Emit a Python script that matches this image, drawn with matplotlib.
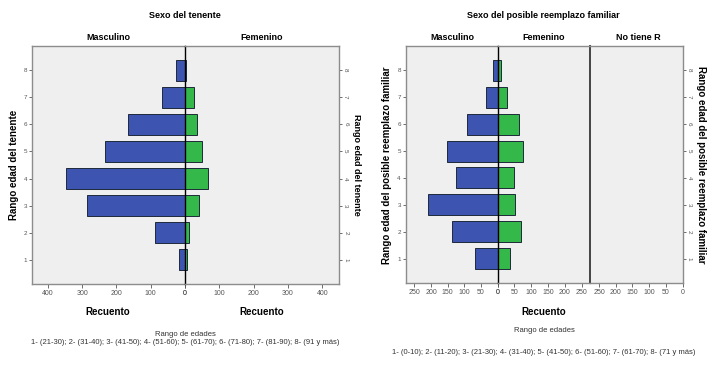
import matplotlib
matplotlib.use("Agg")
import matplotlib.pyplot as plt

plt.rcParams['font.family'] = ['Liberation Sans', 'DejaVu Sans']

# ---------------- data ----------------
ranks = [1, 2, 3, 4, 5, 6, 7, 8]
ten_masc = [17, 87, 287, 347, 232, 166, 66, 25]
ten_fem = [6, 12, 42, 67, 49, 35, 25, 2]

rep_masc = [68, 136, 208, 126, 152, 91, 34, 13]
rep_fem = [36, 68, 51, 50, 76, 62, 27, 11]
rep_notiene = [0, 0, 0, 0, 0, 0, 0, 0]

ticks_left = [0, 100, 200, 300, 400]
ticks_right = [0, 50, 100, 150, 200, 250]

note_left = "1- (21-30); 2- (31-40); 3- (41-50); 4- (51-60); 5- (61-70); 6- (71-80); 7- (81-90); 8- (91 y más)"
note_right = "1- (0-10); 2- (11-20); 3- (21-30); 4- (31-40); 5- (41-50); 6- (51-60); 7- (61-70); 8- (71 y más)"

# ---------------- style ----------------
W, H = 713, 367
BG = '#efefef'
BLUE = '#3d55b0'
GREEN = '#35b84a'
EDGE = '#1e2a3a'
FRAME = '#8c8c8c'
TICKC = '#555555'

fig = plt.figure(figsize=(W / 100, H / 100), dpi=100)
fig.patch.set_facecolor('white')


def ax_px(x0, x1, y0, y1):
    return fig.add_axes([x0 / W, 1 - y1 / H, (x1 - x0) / W, (y1 - y0) / H])


def style(ax, xmax, reverse, ticks, left=False, right=False):
    ax.set_facecolor(BG)
    ax.set_ylim(0.1, 8.9)
    if reverse:
        ax.set_xlim(xmax, 0)
    else:
        ax.set_xlim(0, xmax)
    ax.set_xticks(ticks)
    ax.set_xticklabels([str(t) for t in ticks])
    ax.tick_params(axis='x', labelsize=5, colors=TICKC, length=3, width=0.6, pad=1.5)
    for s in ax.spines.values():
        s.set_color(FRAME)
        s.set_linewidth(1.0)
    ax.set_yticks(ranks)
    if left:
        ax.tick_params(axis='y', left=True, labelleft=True, right=False, labelright=False,
                       labelsize=4.5, colors=TICKC, length=2.5, width=0.6, pad=1)
    elif right:
        ax.tick_params(axis='y', left=False, labelleft=False, right=True, labelright=True,
                       labelsize=4.5, colors=TICKC, length=2.5, width=0.6, pad=0.5,
                       labelrotation=-90)
    else:
        ax.tick_params(axis='y', left=False, labelleft=False, right=False, labelright=False)


BH = 0.78

# ---------------- left chart ----------------
ytop, ybot = 46, 284
axa = ax_px(32, 185, ytop, ybot)
axb = ax_px(185, 339, ytop, ybot)
style(axa, 446, True, ticks_left, left=True)
style(axb, 449, False, ticks_left, right=True)
axa.barh(ranks, ten_masc, height=BH, color=BLUE, edgecolor=EDGE, linewidth=0.7)
axb.barh(ranks, ten_fem, height=BH, color=GREEN, edgecolor=EDGE, linewidth=0.7)
axa.spines['right'].set_visible(False)
axb.spines['left'].set_color('black')
axb.spines['left'].set_linewidth(1.0)
axb.set_zorder(3)

fig.text(185 / W, 1 - 16 / H, "Sexo del tenente", ha='center', va='center', fontsize=6.5, weight='bold')
fig.text(108 / W, 1 - 37 / H, "Masculino", ha='center', va='center', fontsize=6.5, weight='bold')
fig.text(262 / W, 1 - 37 / H, "Femenino", ha='center', va='center', fontsize=6.5, weight='bold')
fig.text(14 / W, 1 - 165 / H, "Rango edad del tenente", ha='center', va='center', fontsize=7,
         weight='bold', rotation=90)
fig.text(357 / W, 1 - 165 / H, "Rango edad del tenente", ha='center', va='center', fontsize=6.5,
         weight='bold', rotation=-90)
fig.text(108 / W, 1 - 312 / H, "Recuento", ha='center', va='center', fontsize=7, weight='bold')
fig.text(262 / W, 1 - 312 / H, "Recuento", ha='center', va='center', fontsize=7, weight='bold')
fig.text(185 / W, 1 - 334 / H, "Rango de edades", ha='center', va='center', fontsize=5.5, color='#333333')
fig.text(185 / W, 1 - 343 / H, note_left, ha='center', va='center', fontsize=5.5, color='#333333')

# ---------------- right chart ----------------
ytop2, ybot2 = 46, 283
xr0, xr1, xr2, xr3 = 405.7, 497.7, 590.3, 682.7
axc = ax_px(xr0, xr1, ytop2, ybot2)
axd = ax_px(xr1, xr2, ytop2, ybot2)
axe = ax_px(xr2, xr3, ytop2, ybot2)
style(axc, 276, True, ticks_right, left=True)
style(axd, 276, False, ticks_right)
style(axe, 276, True, ticks_right, right=True)
axc.barh(ranks, rep_masc, height=BH, color=BLUE, edgecolor=EDGE, linewidth=0.7)
axd.barh(ranks, rep_fem, height=BH, color=GREEN, edgecolor=EDGE, linewidth=0.7)
axe.barh(ranks, rep_notiene, height=BH, color=GREEN, edgecolor=EDGE, linewidth=0.0)
axc.spines['right'].set_visible(False)
axd.spines['left'].set_color('black')
axd.spines['right'].set_color('#444444')
axd.spines['right'].set_linewidth(1.4)
axe.spines['left'].set_visible(False)
axd.set_zorder(3)

fig.text(543 / W, 1 - 15 / H, "Sexo del posible reemplazo familiar", ha='center', va='center',
         fontsize=6.5, weight='bold')
fig.text(452 / W, 1 - 37 / H, "Masculino", ha='center', va='center', fontsize=6.5, weight='bold')
fig.text(544 / W, 1 - 37 / H, "Femenino", ha='center', va='center', fontsize=6.5, weight='bold')
fig.text(638 / W, 1 - 37 / H, "No tiene R", ha='center', va='center', fontsize=6.5, weight='bold')
fig.text(387 / W, 1 - 165 / H, "Rango edad del posible reemplazo familiar", ha='center', va='center',
         fontsize=7, weight='bold', rotation=90)
fig.text(701 / W, 1 - 165 / H, "Rango edad del posible reemplazo familiar", ha='center', va='center',
         fontsize=7, weight='bold', rotation=-90)
fig.text(544 / W, 1 - 312 / H, "Recuento", ha='center', va='center', fontsize=7, weight='bold')
fig.text(544 / W, 1 - 330 / H, "Rango de edades", ha='center', va='center', fontsize=5.5, color='#333333')
fig.text(544 / W, 1 - 353 / H, note_right, ha='center', va='center', fontsize=5.5, color='#333333')

fig.savefig("out.png", dpi=100, facecolor='white')
